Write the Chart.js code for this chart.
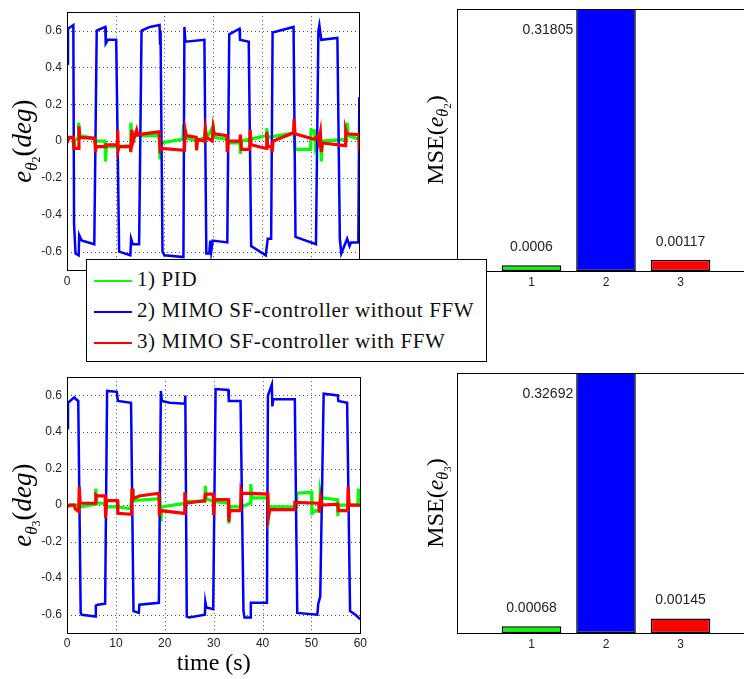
<!DOCTYPE html>
<html>
<head>
<meta charset="utf-8">
<script src="https://cdn.jsdelivr.net/npm/chart.js@4.4.0/dist/chart.umd.min.js"></script>
<style>
body { margin:0; background:#fff; overflow:hidden; width:744px; height:679px; position:relative; }
canvas { position:absolute; }
#legend { position:absolute; left:86px; top:259px; width:399px; height:101px; border:1px solid #000; background:#fff;
  font-family:"Liberation Serif", serif; font-size:21px; letter-spacing:0.6px; color:#111; z-index:5; }
.item { position:absolute; left:7px; height:24px; line-height:24px; white-space:nowrap; }
.swatch { display:inline-block; width:38px; height:0; border-top:2px solid; vertical-align:middle; margin-right:5px; }
</style>
</head>
<body>
<canvas id="err2" width="370" height="300" style="left:0;top:0"></canvas>
<canvas id="mse2" width="400" height="300" style="left:380px;top:0"></canvas>
<canvas id="err3" width="370" height="314" style="left:0;top:365px"></canvas>
<canvas id="mse3" width="400" height="314" style="left:380px;top:365px"></canvas>
<div id="legend"></div>
<script>
// axis ticks
var lineXTicks = [0, 10, 20, 30, 40, 50, 60];
var lineYTicks = [-0.6, -0.4, -0.2, 0, 0.2, 0.4, 0.6];
var barCategories = [1, 2, 3];

var seriesNames = ['1) PID', '2) MIMO SF-controller without FFW', '3) MIMO SF-controller with FFW'];
var seriesColors = ['#00ff00', '#0000ff', '#ff0000'];

// joint 2 tracking error, [time s, error deg]
var pidTheta2 = [[0,0.01],[1.3,0.02],[1.4,-0.045],[1.6,0.01],[2.3,0.01],[2.4,0.1],[2.6,0.03],[5.6,0.015],[5.8,-0.01],
  [6.0,0.0],[7.8,0.0],[7.9,-0.11],[8.1,-0.03],[10.3,-0.03],[13.0,-0.025],[13.1,0.1],[13.3,0.03],[18.9,0.03],
  [19.1,-0.1],[19.3,-0.01],[23.8,0.01],[23.9,0.09],[24.1,0.02],[26.6,0.0],[28.2,0.02],[28.4,0.08],[28.6,0.01],
  [30.0,0.08],[30.2,0.02],[32.9,0.01],[33.1,-0.01],[35.5,-0.01],[35.6,-0.07],[35.8,0.0],[40.9,0.03],[41.0,0.07],
  [41.2,0.02],[46.6,0.045],[46.8,-0.045],[50.0,-0.045],[50.1,0.06],[50.8,0.055],[51.0,-0.03],[51.5,0.02],
  [52.1,0.0],[52.2,-0.11],[52.4,0.0],[57.4,0.01],[57.5,0.1],[57.7,0.03],[60,0.01]];
var sfTheta2 = [[0,0.42],[0.2,0.61],[1.3,0.63],[1.45,-0.45],[1.75,-0.61],[2.4,-0.62],[2.5,-0.51],[3.0,-0.54],
  [5.6,-0.56],[6.1,0.6],[7.85,0.62],[7.95,0.53],[8.4,0.55],[10.1,0.55],[10.7,-0.6],[13.0,-0.62],[13.15,-0.53],
  [13.5,-0.56],[14.8,-0.56],[15.3,0.6],[17.0,0.62],[19.0,0.63],[19.1,0.53],[19.2,0.6],[19.6,-0.6],[20.0,-0.62],
  [23.9,-0.63],[24.1,0.62],[24.3,0.54],[28.2,0.55],[28.6,-0.61],[29.2,-0.61],[29.4,-0.54],[29.6,-0.6],
  [29.9,-0.54],[32.9,-0.55],[33.3,0.58],[35.4,0.61],[35.5,0.55],[37.3,0.54],[37.8,-0.57],[40.8,-0.62],
  [41.2,-0.53],[41.9,-0.53],[42.2,0.59],[46.5,0.62],[46.9,-0.52],[51.1,-0.56],[51.6,0.6],[51.8,0.63],
  [52.2,0.55],[55.5,0.56],[56.0,-0.53],[56.3,-0.61],[57.5,-0.53],[58.0,-0.57],[58.3,-0.55],[59.8,-0.55],[60,0.24]];
var ffwTheta2 = [[0,-0.01],[0.4,0.02],[1.3,0.02],[1.5,-0.04],[2.3,-0.04],[2.45,0.08],[2.6,0.02],[5.7,0.015],
  [5.85,-0.06],[6.0,-0.03],[7.8,-0.03],[8.0,-0.02],[10.3,-0.02],[10.4,0.06],[10.5,-0.05],[10.7,-0.03],[13.0,-0.03],
  [13.1,-0.06],[13.3,0.06],[13.6,0.0],[14.3,0.06],[14.5,0.035],[18.9,0.05],[19.1,-0.05],[19.4,-0.04],[24.1,-0.05],
  [24.3,0.055],[24.5,0.03],[26.5,0.02],[26.6,-0.05],[26.8,0.01],[28.2,0.0],[28.4,0.06],[28.6,0.02],[29.8,0.0],
  [30.0,0.07],[30.2,0.04],[32.8,0.03],[32.9,-0.06],[33.1,0.0],[35.5,0.0],[35.6,0.035],[35.8,-0.045],[37.5,-0.045],
  [37.6,0.06],[37.8,-0.02],[40.9,-0.04],[41.0,0.05],[41.2,-0.03],[42.0,-0.03],[42.1,-0.06],[42.3,0.0],[46.5,0.045],
  [46.6,0.12],[46.8,0.04],[50.7,0.01],[51.5,0.03],[51.7,0.0],[52.0,0.045],[52.2,-0.06],[52.4,-0.01],[57.1,-0.025],
  [57.2,0.06],[57.4,0.04],[59.9,0.035],[60,-0.05]];

// joint 3 tracking error, [time s, error deg]
var pidTheta3 = [[0,0.0],[2.5,0.0],[2.7,-0.01],[5.8,0.005],[5.9,0.09],[6.1,0.01],[7.9,0.01],[8.1,-0.01],[10.4,-0.01],
  [13.0,-0.02],[13.4,0.09],[13.6,0.025],[19.0,0.035],[19.2,-0.09],[19.4,-0.01],[24.0,0.01],[24.5,0.02],[28.2,0.02],
  [28.3,0.105],[28.5,0.035],[30.0,0.02],[33.0,0.01],[33.1,-0.1],[33.3,-0.01],[35.6,-0.01],[37.5,0.01],[37.6,0.115],
  [37.8,0.04],[41.0,0.04],[41.1,-0.11],[41.3,-0.01],[46.9,-0.01],[47.0,0.065],[50.0,0.07],[50.1,-0.045],[51.0,-0.03],
  [51.7,-0.035],[51.8,0.07],[52.0,0.04],[55.3,0.03],[55.4,-0.06],[55.6,0.0],[59.5,0.0],[59.6,0.09],[59.8,0.02],[60,0.02]];
var sfTheta3 = [[0,0.42],[0.2,0.56],[1.5,0.59],[1.8,0.58],[2.3,0.57],[2.8,-0.59],[3.0,-0.6],[5.8,-0.61],[5.9,-0.55],
  [6.3,-0.545],[7.8,-0.54],[8.2,0.625],[10.2,0.62],[10.4,0.57],[13.1,0.56],[13.6,-0.58],[14.7,-0.59],[14.8,-0.545],
  [18.8,-0.535],[19.2,0.625],[19.4,0.57],[21.0,0.56],[24.1,0.555],[24.2,0.6],[24.5,-0.61],[25.0,-0.615],[28.2,-0.6],
  [28.3,-0.53],[28.5,-0.56],[29.9,-0.57],[30.4,0.635],[33.0,0.63],[33.1,0.57],[35.5,0.57],[36.1,-0.58],[36.3,-0.615],
  [37.5,-0.615],[37.6,-0.535],[40.9,-0.535],[41.1,0.6],[41.9,0.66],[42.0,0.54],[42.2,0.58],[46.6,0.58],[47.1,-0.59],
  [51.2,-0.6],[51.4,-0.54],[51.8,-0.5],[52.5,0.61],[55.4,0.6],[55.5,0.57],[57.3,0.56],[57.9,-0.58],[59.0,-0.6],[60,-0.625]];
var ffwTheta3 = [[0,-0.01],[0.5,0.0],[1.5,0.0],[1.7,-0.02],[2.4,-0.035],[2.5,0.1],[2.7,0.01],[5.8,0.01],[5.9,0.055],
  [6.1,0.05],[7.8,0.05],[7.9,-0.07],[8.1,0.025],[10.3,0.025],[10.4,-0.045],[13.2,-0.05],[13.3,0.09],[13.5,0.035],
  [14.8,0.05],[18.8,0.065],[18.9,-0.06],[19.1,-0.03],[24.0,-0.045],[24.1,0.07],[24.3,0.01],[28.2,0.025],[28.3,0.06],
  [29.9,0.06],[30.0,-0.055],[30.2,0.03],[33.0,0.03],[33.1,-0.09],[33.3,-0.03],[35.5,-0.03],[35.6,0.08],[35.8,0.065],
  [41.1,0.06],[41.2,-0.065],[41.5,-0.025],[46.5,-0.025],[46.6,0.015],[51.5,0.01],[51.6,-0.04],[51.9,0.04],[52.2,0.0],
  [55.4,0.005],[55.5,-0.03],[57.4,-0.03],[57.5,0.1],[57.7,0.0],[60,0.0]];

// mean squared errors per controller
var mseTheta2 = [0.0006, 0.31805, 0.00117];
var mseTheta3 = [0.00068, 0.32692, 0.00145];

var tickFont = { family: 'Liberation Sans', size: 12 };

// dotted grid at the tick positions of both scales
var dottedGrid = {
  id: 'dottedGrid',
  beforeDatasetsDraw: function (chart) {
    var a = chart.chartArea, ctx = chart.ctx, sx = chart.scales.x, sy = chart.scales.y;
    ctx.save();
    ctx.strokeStyle = 'rgba(0,0,0,0.7)';
    ctx.lineWidth = 1;
    ctx.setLineDash([1, 3]);
    ctx.beginPath();
    sx.ticks.forEach(function (t) {
      var x = Math.round(sx.getPixelForValue(t.value)) + 0.5;
      ctx.moveTo(x, a.top); ctx.lineTo(x, a.bottom);
    });
    sy.ticks.forEach(function (t) {
      var y = Math.round(sy.getPixelForValue(t.value)) + 0.5;
      ctx.moveTo(a.left, y); ctx.lineTo(a.right, y);
    });
    ctx.stroke();
    ctx.restore();
  }
};

// closed box round the plot area
var frame = {
  id: 'frame',
  afterDraw: function (chart) {
    var a = chart.chartArea, ctx = chart.ctx;
    ctx.save();
    ctx.strokeStyle = '#000';
    ctx.lineWidth = 1;
    ctx.strokeRect(Math.round(a.left) + 0.5, Math.round(a.top) + 0.5, Math.round(a.right - a.left), Math.round(a.bottom - a.top));
    ctx.restore();
  }
};

// rotated y title with subscripts: parts are [text, font, baseline shift]
var titles = {
  id: 'titles',
  afterDraw: function (chart, args, opts) {
    var ctx = chart.ctx, a = chart.chartArea;
    ctx.save();
    ctx.fillStyle = '#000';
    if (opts.yParts) {
      var total = 0;
      opts.yParts.forEach(function (p) { ctx.font = p[1]; total += ctx.measureText(p[0]).width; });
      ctx.translate(opts.yX, (a.top + a.bottom) / 2 + (opts.yShift || 0));
      ctx.rotate(-Math.PI / 2);
      ctx.textAlign = 'left';
      ctx.textBaseline = 'alphabetic';
      var x = -total / 2;
      opts.yParts.forEach(function (p) {
        ctx.font = p[1];
        ctx.fillText(p[0], x, p[2]);
        x += ctx.measureText(p[0]).width;
      });
      ctx.setTransform(1, 0, 0, 1, 0, 0);
    }
    if (opts.xText) {
      ctx.font = '24px "Liberation Serif"';
      ctx.textAlign = 'center';
      ctx.textBaseline = 'middle';
      ctx.fillText(opts.xText, (a.left + a.right) / 2, opts.xY);
    }
    ctx.restore();
  }
};

// value labels over the bars; a bar running off the top gets its label beside it
var barValues = {
  id: 'barValues',
  afterDatasetsDraw: function (chart) {
    var meta = chart.getDatasetMeta(0), a = chart.chartArea, ctx = chart.ctx;
    var vals = chart.data.datasets[0].data;
    ctx.save();
    ctx.font = '14px "Liberation Sans"';
    ctx.fillStyle = '#222';
    ctx.textBaseline = 'middle';
    meta.data.forEach(function (bar, i) {
      var v = vals[i].y;
      if (bar.y < a.top) {
        ctx.textAlign = 'right';
        ctx.fillText(String(v), bar.x - bar.width / 2 - 3, a.top + 21);
      } else {
        ctx.textAlign = 'center';
        ctx.fillText(String(v), bar.x, bar.y - 18);
      }
    });
    ctx.restore();
  }
};

function yParts(sub) {
  return [
    ['e', 'italic 27px "Liberation Serif"', 0],
    ['\u03b8', 'italic 17px "Liberation Serif"', 6],
    [sub, '12px "Liberation Serif"', 9],
    ['(', '27px "Liberation Serif"', 0],
    ['deg', 'italic 27px "Liberation Serif"', 0],
    [')', '27px "Liberation Serif"', 0]
  ];
}

function mseParts(sub) {
  return [
    ['MSE(', '24px "Liberation Serif"', 0],
    ['e', 'italic 24px "Liberation Serif"', 0],
    ['\u03b8', 'italic 16px "Liberation Serif"', 5],
    [sub, '11px "Liberation Serif"', 8],
    [')', '24px "Liberation Serif"', 0]
  ];
}

function makeLineChart(id, pid, sf, ffw, sub, pad, xAxisH, tickPad, xText, xY) {
  var traces = [pid, sf, ffw];
  var widths = [3.2, 2.5, 3.2];
  return new Chart(document.getElementById(id), {
    type: 'line',
    data: {
      datasets: traces.map(function (d, i) {
        return {
          label: seriesNames[i], data: d, borderColor: seriesColors[i], borderWidth: widths[i],
          pointRadius: 0, tension: 0, fill: false, order: 3 - i
        };
      })
    },
    options: {
      responsive: false, animation: false,
      layout: { padding: pad },
      plugins: { legend: { display: false }, tooltip: { enabled: false },
        titles: { yParts: yParts(sub), yX: 31, xText: xText, xY: xY } },
      scales: {
        x: {
          type: 'linear', min: 0, max: 60,
          afterBuildTicks: function (s) { s.ticks = lineXTicks.map(function (v) { return { value: v }; }); },
          afterFit: function (s) { s.height = xAxisH; },
          ticks: { font: tickFont, color: '#222', padding: tickPad, maxRotation: 0 },
          grid: { display: false, drawTicks: false },
          border: { display: false }
        },
        y: {
          min: -0.7, max: 0.7,
          afterBuildTicks: function (s) { s.ticks = lineYTicks.map(function (v) { return { value: v }; }); },
          afterFit: function (s) { s.width = 67; },
          ticks: { font: tickFont, color: '#222', padding: 5,
            callback: function (v) { return v === 0 ? '0' : v.toFixed(1); } },
          grid: { display: false, drawTicks: false },
          border: { display: false }
        }
      }
    },
    plugins: [dottedGrid, frame, titles]
  });
}

function makeBarChart(id, values, yMax, sub, padTop, xAxisH, tickPad) {
  return new Chart(document.getElementById(id), {
    type: 'bar',
    data: {
      datasets: [{
        data: barCategories.map(function (c, i) { return { x: c, y: values[i] }; }),
        backgroundColor: seriesColors, borderColor: '#000', borderWidth: 1.5, borderSkipped: false,
        barPercentage: 0.8, categoryPercentage: 1, clip: 0
      }]
    },
    options: {
      responsive: false, animation: false,
      layout: { padding: { top: padTop, right: 25 } },
      plugins: { legend: { display: false }, tooltip: { enabled: false },
        titles: { yParts: mseParts(sub), yX: 63 } },
      scales: {
        x: {
          type: 'linear', min: 0, max: 4, offset: false,
          afterBuildTicks: function (s) { s.ticks = barCategories.map(function (v) { return { value: v }; }); },
          afterFit: function (s) { s.height = xAxisH; },
          ticks: { font: tickFont, color: '#222', padding: tickPad },
          grid: { display: false, drawTicks: false },
          border: { display: false }
        },
        y: {
          min: 0, max: yMax,
          afterFit: function (s) { s.width = 77; },
          ticks: { display: false },
          grid: { display: false, drawTicks: false },
          border: { display: false }
        }
      }
    },
    plugins: [frame, barValues, titles]
  });
}

makeLineChart('err2', pidTheta2, sfTheta2, ffwTheta2, '2', { top: 8, right: 7 }, 30, 4);
makeBarChart('mse2', mseTheta2, 0.027, '2', 9, 29, 4);
makeLineChart('err3', pidTheta3, sfTheta3, ffwTheta3, '3', { top: 7, right: 8 }, 46, 3, 'time (s)', 299);
makeBarChart('mse3', mseTheta3, 0.026, '3', 8, 46, 4);

// legend box shared by the two upper panels
var legend = document.getElementById('legend');
seriesNames.forEach(function (name, i) {
  var row = document.createElement('div');
  row.className = 'item';
  row.style.top = (7 + i * 31) + 'px';
  row.innerHTML = '<span class="swatch" style="border-color:' + seriesColors[i] + '"></span>' + name;
  legend.appendChild(row);
});
</script>
</body>
</html>
